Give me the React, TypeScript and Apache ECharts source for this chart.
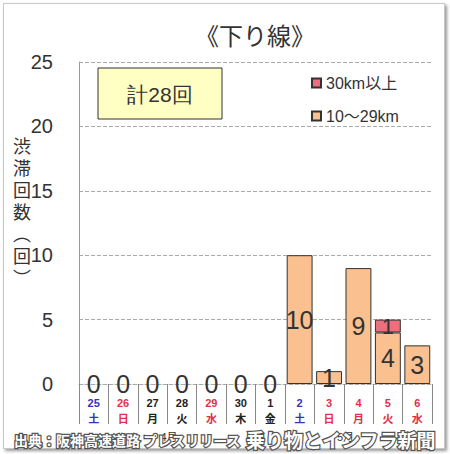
import { useEffect, useRef } from "react";
import * as echarts from "echarts";

const days = ["25", "26", "27", "28", "29", "30", "1", "2", "3", "4", "5", "6"];
const weekdays = ["土", "日", "月", "火", "水", "木", "金", "土", "日", "月", "火", "水"];
// b = Saturday (blue), r = Sunday / holiday (red), k = weekday
const dayKinds = ["b", "r", "k", "k", "r", "k", "k", "b", "r", "r", "r", "r"];
const monthLabels = ["", "", "", "4月", "", "", "", "", "", "5月", "", ""];
const jam10to29 = [0, 0, 0, 0, 0, 0, 0, 10, 1, 9, 4, 3];
const jam30plus = [0, 0, 0, 0, 0, 0, 0, 0, 0, 0, 1, 0];
const yTicks = { min: 0, max: 25, interval: 5 };
const totalLabel = "計28回";

const FONT = "'Liberation Sans', 'Noto Sans CJK JP', sans-serif";

export default function App() {
  const ref = useRef<HTMLDivElement>(null);

  useEffect(() => {
    document.body.style.margin = "0";
    if (!ref.current) return;
    const chart = echarts.init(ref.current, undefined, { renderer: "svg" });

    const barData = (vals: number[]) =>
      vals.map((v) => (v === 0 ? { value: 0, itemStyle: { borderWidth: 0 } } : v));

    chart.setOption({
      animation: false,
      textStyle: { fontFamily: FONT },
      title: {
        text: "《下り線》",
        left: 190,
        top: 19,
        textStyle: { fontSize: 24, fontWeight: "normal", color: "#333", fontFamily: FONT },
      },
      legend: {
        data: ["30km以上", "10～29km"],
        orient: "vertical",
        left: 306,
        top: 70,
        itemWidth: 9,
        itemHeight: 9,
        itemGap: 17,
        icon: "rect",
        textStyle: { fontSize: 16, color: "#333", fontFamily: FONT },
      },
      grid: { left: 79, right: 18, top: 62, bottom: 70 },
      xAxis: [
        {
          type: "category",
          data: days,
          axisLine: { lineStyle: { color: "#aaa", type: "dashed" } },
          axisTick: { show: true, interval: 0, length: 40, lineStyle: { color: "#888" } },
          axisLabel: {
            interval: 0,
            margin: 11,
            formatter: (v: string, i: number) =>
              `{${dayKinds[i]}|${v}}\n{${dayKinds[i]}|${weekdays[i]}}`,
            rich: {
              b: { color: "#3333bb", fontSize: 11, fontWeight: "bold", lineHeight: 16 },
              r: { color: "#e0304a", fontSize: 11, fontWeight: "bold", lineHeight: 16 },
              k: { color: "#222", fontSize: 11, fontWeight: "bold", lineHeight: 16 },
            },
          },
        },
        {
          type: "category",
          data: days,
          position: "bottom",
          axisLine: { show: false },
          axisTick: { show: false },
          axisLabel: {
            interval: 0,
            margin: 47,
            fontSize: 11,
            color: "#333",
            padding: [0, 26, 0, 0],
            formatter: (_v: string, i: number) => monthLabels[i],
          },
        },
      ],
      yAxis: {
        type: "value",
        ...yTicks,
        axisLine: { show: true, lineStyle: { color: "#999" } },
        axisTick: { show: false },
        axisLabel: { fontSize: 20, color: "#333", margin: 26 },
        splitLine: { lineStyle: { color: "#aaa", type: "dashed" } },
      },
      series: [
        {
          name: "10～29km",
          type: "bar",
          stack: "jam",
          data: barData(jam10to29),
          barCategoryGap: "12%",
          itemStyle: { color: "#fac090", borderColor: "#333", borderWidth: 1 },
          label: {
            show: true,
            position: "inside",
            fontSize: 25,
            color: "#333",
            formatter: (p: any) => String(p.value),
          },
        },
        {
          name: "30km以上",
          type: "bar",
          stack: "jam",
          data: barData(jam30plus),
          barCategoryGap: "12%",
          itemStyle: { color: "#ee6d7e", borderColor: "#333", borderWidth: 1 },
          label: {
            show: true,
            position: "inside",
            fontSize: 22,
            color: "#333",
            formatter: (p: any) => (p.value > 0 ? String(p.value) : ""),
          },
        },
      ],
      graphic: [
        {
          type: "rect",
          shape: { x: 98, y: 68, width: 124, height: 51 },
          style: { fill: "#ffffc4", stroke: "#333", lineWidth: 1 },
        },
        {
          type: "text",
          x: 160,
          y: 94,
          style: {
            text: totalLabel,
            fontSize: 21,
            fill: "#333",
            font: `21px ${FONT}`,
            textAlign: "center",
            textVerticalAlign: "middle",
          },
        },
        {
          type: "text",
          x: 22,
          y: 134,
          style: {
            text: "渋\n滞\n回\n数\n︵\n回\n︶",
            fontSize: 18,
            lineHeight: 22,
            fill: "#333",
            textAlign: "center",
            fontFamily: "'Noto Sans CJK JP', sans-serif",
          },
        },
        {
          type: "text",
          x: 14,
          y: 440,
          z: 100,
          style: {
            text: "出典：阪神高速道路 プレスリリース",
            fontSize: 14,
            fontWeight: "bold",
            fill: "#fff",
            stroke: "#555",
            lineWidth: 2.5,
            textVerticalAlign: "middle",
            fontFamily: "'Noto Sans CJK JP', sans-serif",
          },
        },
        {
          type: "text",
          x: 246,
          y: 439,
          z: 101,
          style: {
            text: "乗り物とインフラ新聞",
            fontSize: 19,
            fontWeight: "bold",
            fill: "#fff",
            stroke: "#555",
            lineWidth: 2.5,
            textVerticalAlign: "middle",
            fontFamily: "'Noto Sans CJK JP', sans-serif",
          },
        },
      ],
    });

    return () => {
      chart.dispose();
    };
  }, []);

  return (
    <div style={{ position: "relative", width: 450, height: 454, background: "#fff" }}>
      <div
        style={{
          position: "absolute",
          left: 3,
          top: 3,
          width: 440,
          height: 444,
          border: "1px solid #c8c8c8",
          boxShadow: "2px 2px 3px #999",
        }}
      />
      <div ref={ref} style={{ position: "absolute", left: 0, top: 0, width: 450, height: 454 }} />
    </div>
  );
}
